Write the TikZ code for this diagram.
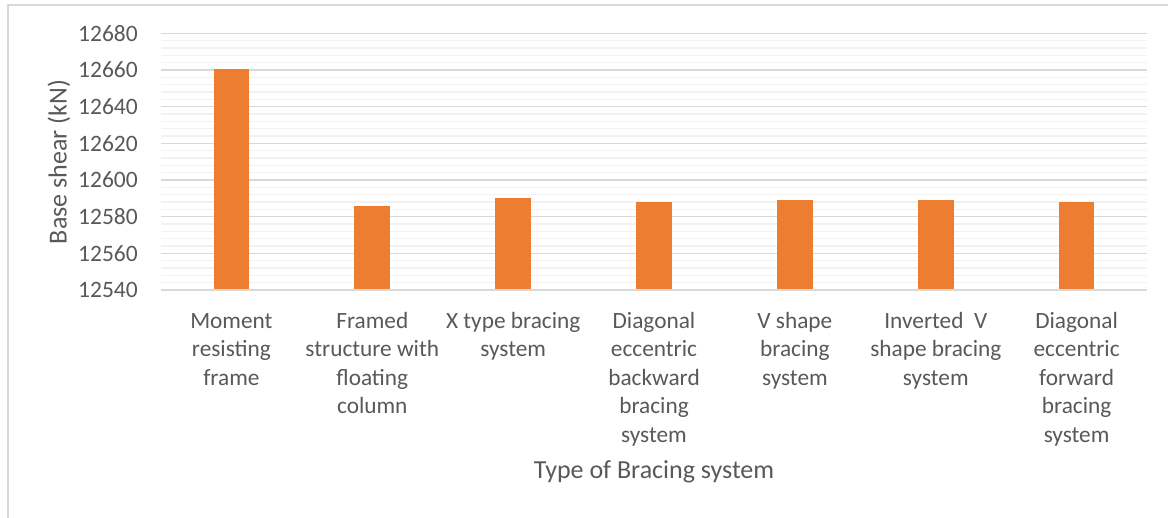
\documentclass[tikz,border=0pt]{standalone}
\usepackage{fontspec}
\setmainfont{Carlito}
\definecolor{txt}{HTML}{595959}
\definecolor{majorgrid}{HTML}{D9D9D9}
\definecolor{minorgrid}{HTML}{F2F2F2}
\definecolor{bar}{HTML}{ED7D31}
\definecolor{frame}{HTML}{D9D9D9}
\newcommand{\firstline}{\rule{0pt}{16pt}}
\tikzset{
  ticklabel/.style={anchor=east, text=txt, font=\fontsize{23.5}{28}\selectfont, inner sep=0pt},
  catlabel/.style={anchor=north, text=txt, align=center, font=\fontsize{23.3}{28.5}\selectfont, inner sep=0pt},
  axistitle/.style={text=txt, font=\fontsize{26}{30}\selectfont, inner sep=0pt},
  majorline/.style={draw=majorgrid, line width=1.5pt},
  minorline/.style={draw=minorgrid, line width=1.5pt},
  barfill/.style={fill=bar, draw=none},
}
\begin{document}
\begin{tikzpicture}[x=1pt, y=-1pt]
  \useasboundingbox (0,0) rectangle (1168,518);
  \fill[white] (0,0) rectangle (1168,518);
  % chart frame
  \draw[frame, line width=1.5pt] (8,518) -- (8,5) -- (1168,5);
  % plot area: x 161..1147, value 12540 at y=290, 20 kN per 36.67 px
  \def\ybase{290}
  \def\yscale{1.8333}
  % minor gridlines every 4 kN
  \foreach \k in {1,...,34} {
    \pgfmathsetmacro{\yy}{\ybase-\k*4*\yscale}
    \draw[minorline] (161,\yy) -- (1147,\yy);
  }
  % major gridlines and tick labels every 20 kN
  \foreach \v/\nm in {12540/t0,12560/t1,12580/t2,12600/t3,12620/t4,12640/t5,12660/t6,12680/t7} {
    \pgfmathsetmacro{\yy}{\ybase-(\v-12540)*\yscale}
    \draw[majorline] (161,\yy) -- (1147,\yy);
    \node[ticklabel] (\nm) at (138,\yy) {\v};
  }
  % bars
  \foreach \i/\v in {1/12660.5,2/12585.8,3/12590.2,4/12588,5/12589.1,6/12589.1,7/12588} {
    \pgfmathsetmacro{\cx}{161+(\i-0.5)*140.86}
    \pgfmathsetmacro{\yy}{\ybase-(\v-12540)*\yscale}
    \fill[barfill] (\cx-17.8,\yy) rectangle (\cx+17.8,\ybase-0.8);
  }
  % category labels
  \node[catlabel] (c1) at (231.4,312) {\firstline Moment\\resisting\\frame};
  \node[catlabel] (c2) at (372.3,312) {\firstline Framed\\structure with\\floating\\column};
  \node[catlabel] (c3) at (513.2,312) {\firstline X type bracing\\system};
  \node[catlabel] (c4) at (654.0,312) {\firstline Diagonal\\eccentric\\backward\\bracing\\system};
  \node[catlabel] (c5) at (794.9,312) {\firstline V shape\\bracing\\system};
  \node[catlabel] (c6) at (935.8,312) {\firstline Inverted\ \ V\\shape bracing\\system};
  \node[catlabel] (c7) at (1076.6,312) {\firstline Diagonal\\eccentric\\forward\\bracing\\system};
  % axis titles
  \node[axistitle] (xt) at (654,472) {Type of Bracing system};
  \node[axistitle, rotate=90] (yt) at (59,162) {Base shear (kN)};
\end{tikzpicture}
\end{document}
